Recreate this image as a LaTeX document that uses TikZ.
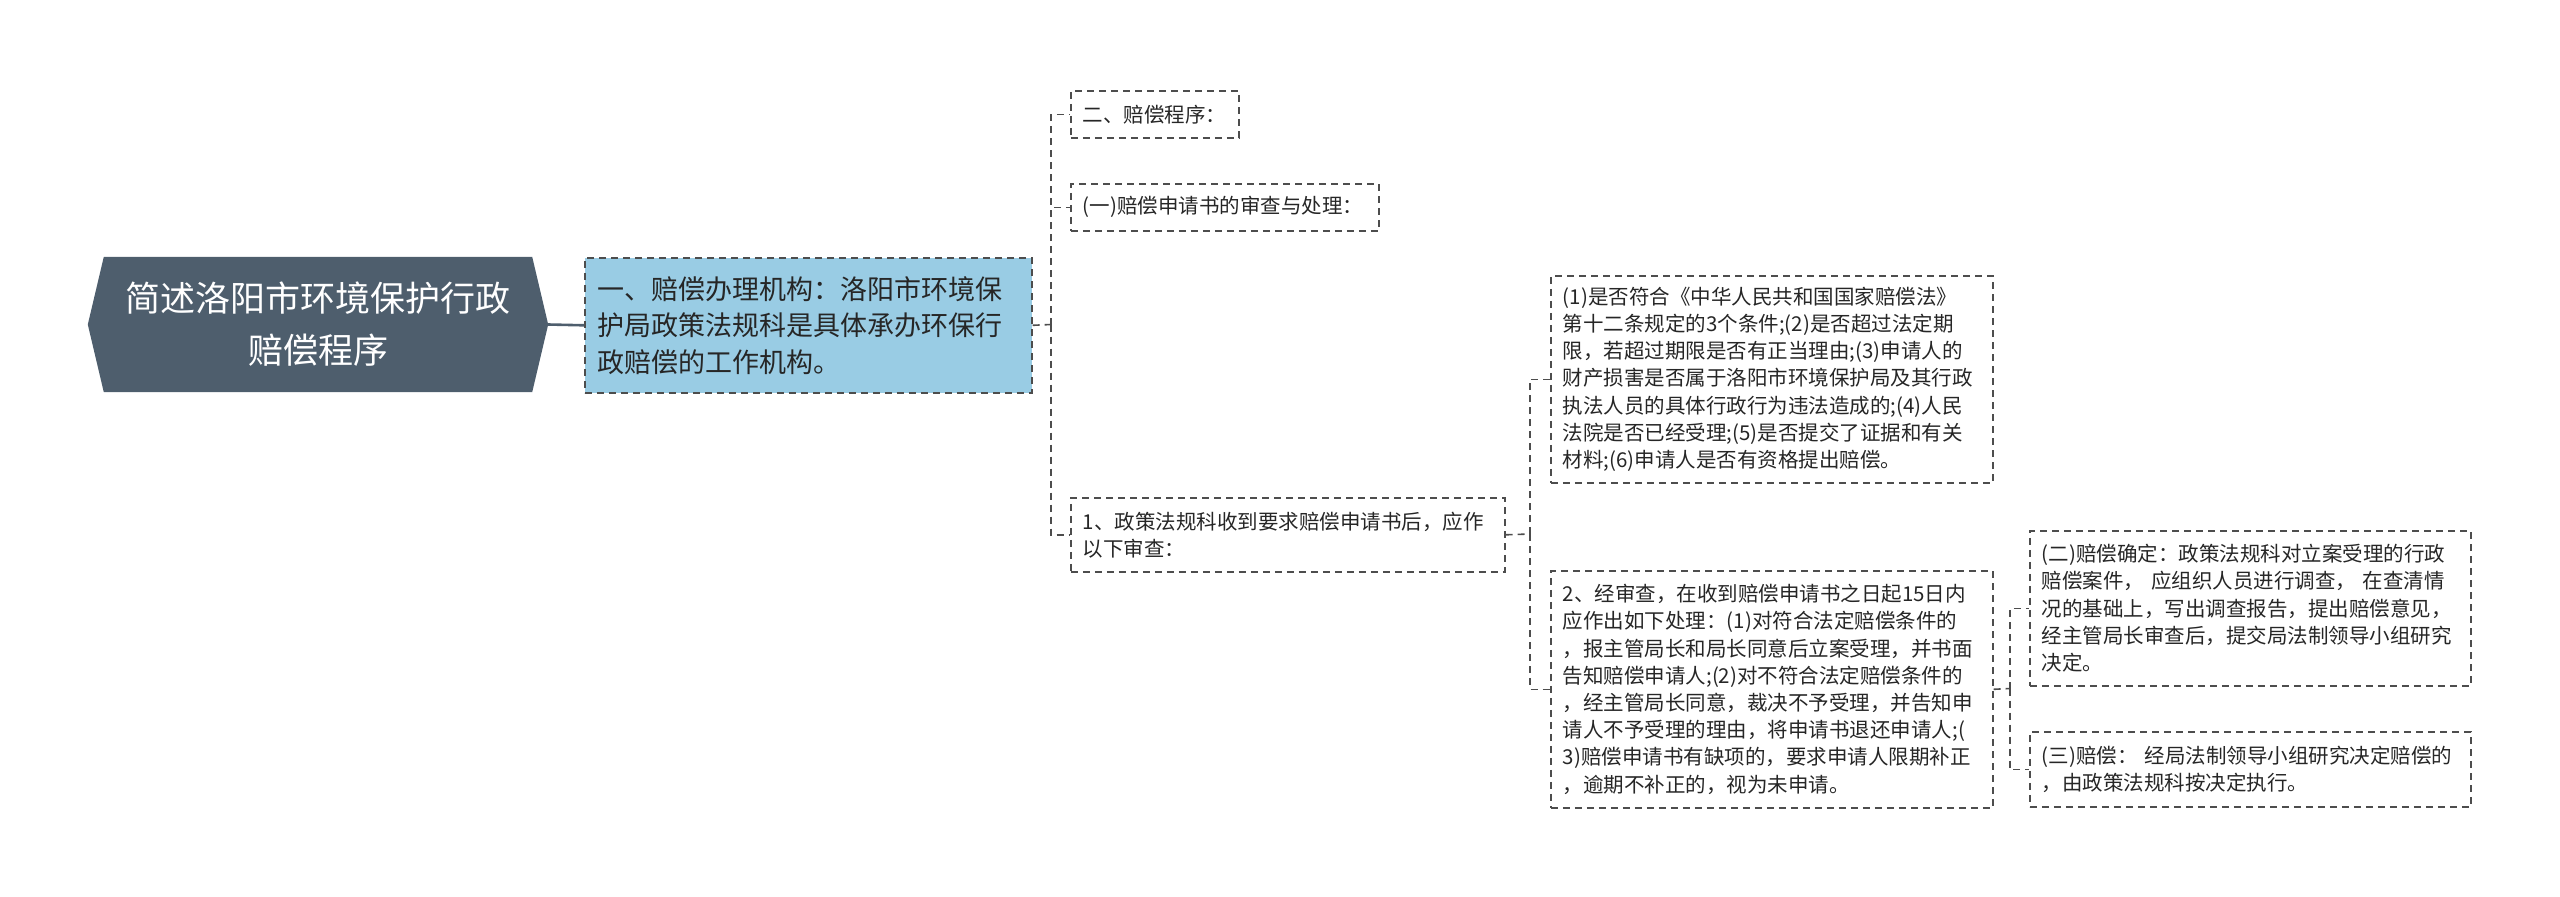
\documentclass[tikz,border=0pt]{standalone}
\usepackage{fontspec}
\setmainfont{Noto Sans CJK SC}
\usetikzlibrary{backgrounds}
\definecolor{rootc}{HTML}{4E5E6D}
\definecolor{bluec}{HTML}{99CCE4}
\definecolor{linec}{HTML}{4D4D4D}
\definecolor{txtc}{HTML}{262626}
\begin{document}
\begin{tikzpicture}[x=1pt,y=-1pt,
  box/.style={draw=linec, line width=1.6pt, dash pattern=on 7pt off 5pt,
    inner xsep=12pt, inner ysep=0pt, align=left, anchor=north west,
    text=txtc, font=\fontsize{20.5}{27.2}\selectfont},
  conn/.style={draw=linec, line width=1.6pt, dash pattern=on 7pt off 5pt},
  rootconn/.style={draw=rootc, line width=2.6pt}]
\useasboundingbox (0,0) rectangle (2560,897);

% root
\node[minimum width=428pt, minimum height=135pt, inner sep=0pt, align=center,
  text=white, font=\fontsize{35}{52}\selectfont] (root) at (318,324.5)
  {简述洛阳市环境保护行政\\赔偿程序};
\begin{scope}[on background layer]
  \fill[rootc] ([xshift=-16pt]root.west) -- (root.north west) -- (root.north east)
    -- ([xshift=16pt]root.east) -- (root.south east) -- (root.south west) -- cycle;
\end{scope}
\coordinate (roottip) at ([xshift=16pt]root.east);

% level 1
\node[box, fill=bluec, inner xsep=13pt, text width=421pt, minimum height=135pt,
  font=\fontsize{27}{36.5}\selectfont] (b1) at (584,257)
  {一、赔偿办理机构：洛阳市环境保\\护局政策法规科是具体承办环保行\\政赔偿的工作机构。};

% level 2
\node[box, text width=144pt, minimum height=47pt] (c1) at (1070,90) {二、赔偿程序：};
\node[box, text width=284pt, minimum height=47pt] (c2) at (1070,183) {(一)赔偿申请书的审查与处理：};
\node[box, text width=410pt, minimum height=74pt] (c3) at (1070,497)
  {1、政策法规科收到要求赔偿申请书后，应作\\以下审查：};

% level 3
\node[box, text width=418pt, minimum height=207pt] (d1) at (1550,275)
  {(1)是否符合《中华人民共和国国家赔偿法》\\第十二条规定的3个条件;(2)是否超过法定期\\限，若超过期限是否有正当理由;(3)申请人的\\财产损害是否属于洛阳市环境保护局及其行政\\执法人员的具体行政行为违法造成的;(4)人民\\法院是否已经受理;(5)是否提交了证据和有关\\材料;(6)申请人是否有资格提出赔偿。};
\node[box, text width=418pt, minimum height=237pt] (d2) at (1550,570)
  {2、经审查，在收到赔偿申请书之日起15日内\\应作出如下处理：(1)对符合法定赔偿条件的\\，报主管局长和局长同意后立案受理，并书面\\告知赔偿申请人;(2)对不符合法定赔偿条件的\\，经主管局长同意，裁决不予受理，并告知申\\请人不予受理的理由，将申请书退还申请人;(\\3)赔偿申请书有缺项的，要求申请人限期补正\\，逾期不补正的，视为未申请。};

% level 4
\node[box, text width=417pt, minimum height=155pt] (e1) at (2029,530)
  {(二)赔偿确定：政策法规科对立案受理的行政\\赔偿案件，~应组织人员进行调查，~在查清情\\况的基础上，写出调查报告，提出赔偿意见，\\经主管局长审查后，提交局法制领导小组研究\\决定。};
\node[box, text width=417pt, minimum height=75pt] (e2) at (2029,731)
  {(三)赔偿：~经局法制领导小组研究决定赔偿的\\，由政策法规科按决定执行。};

% connectors
\draw[rootconn] (roottip) -- (b1.west);
\coordinate (j1) at (1051,324.5);
\draw[conn] (b1.east) -- (j1);
\draw[conn] (j1) |- (c1.west);
\draw[conn] (j1) |- (c2.west);
\draw[conn] (j1) |- (c3.west);
\coordinate (j2) at (1530,534);
\draw[conn] (c3.east) -- (j2);
\draw[conn] (j2) |- (d1.west);
\draw[conn] (j2) |- (d2.west);
\coordinate (j3) at (2010,688.5);
\draw[conn] (d2.east) -- (j3);
\draw[conn] (j3) |- (e1.west);
\draw[conn] (j3) |- (e2.west);
\end{tikzpicture}
\end{document}
